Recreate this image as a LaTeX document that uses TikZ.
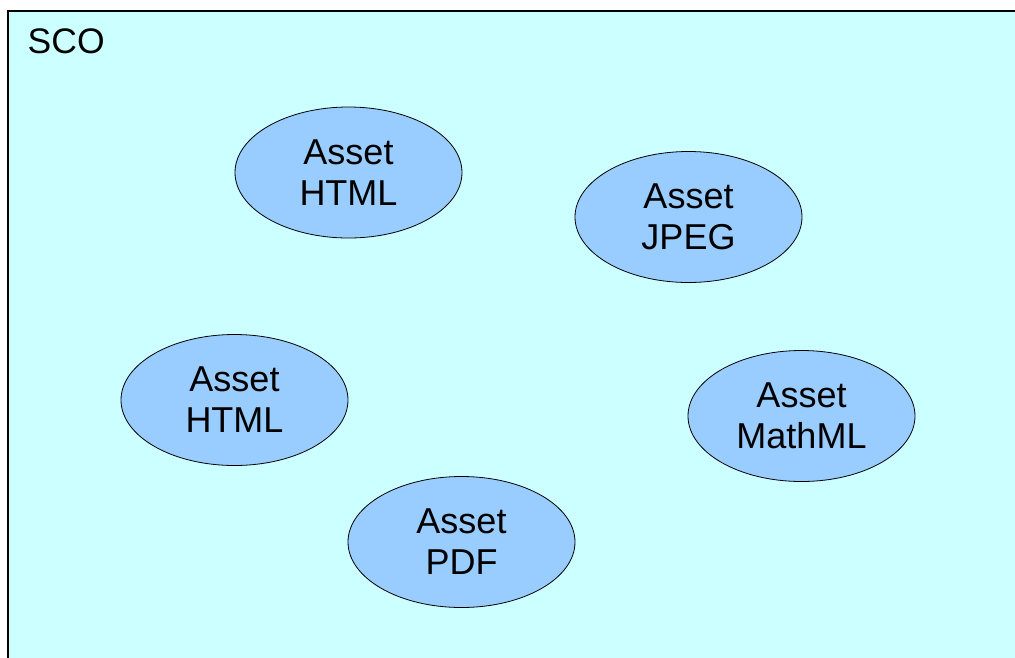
\documentclass[tikz,border=0pt]{standalone}
\usepackage{fontspec}
\setmainfont{Liberation Sans}
\usetikzlibrary{shapes.geometric}
\definecolor{scofill}{HTML}{CCFFFF}
\definecolor{assetfill}{HTML}{99CCFF}
\tikzset{
  asset/.style={ellipse, draw=black, line width=0.8pt, fill=assetfill,
    minimum width=227pt, minimum height=131pt, inner sep=0pt,
    align=center, font=\fontsize{36}{41}\selectfont},
  scobox/.style={draw=black, line width=1.5pt, fill=scofill},
}
\begin{document}
\begin{tikzpicture}[x=1pt, y=-1pt]
  \useasboundingbox (0,0) rectangle (1015,657);
  \clip (0,0) rectangle (1015,657);
  % SCO container, running off the right and bottom edges
  \draw[scobox] (8,11) rectangle (1030,680);
  \node[anchor=base west, font=\fontsize{35.5}{40}\selectfont, inner sep=0pt] (sco) at (27.5,53) {SCO};
  % assets inside the SCO
  \node[asset] (html1) at (348.5,172.5) {Asset\\HTML};
  \node[asset] (jpeg) at (688.5,217) {Asset\\JPEG};
  \node[asset] (html2) at (234.5,400) {Asset\\HTML};
  \node[asset] (mathml) at (801.5,416) {Asset\\MathML};
  \node[asset] (pdf) at (461.5,542) {Asset\\PDF};
\end{tikzpicture}
\end{document}
